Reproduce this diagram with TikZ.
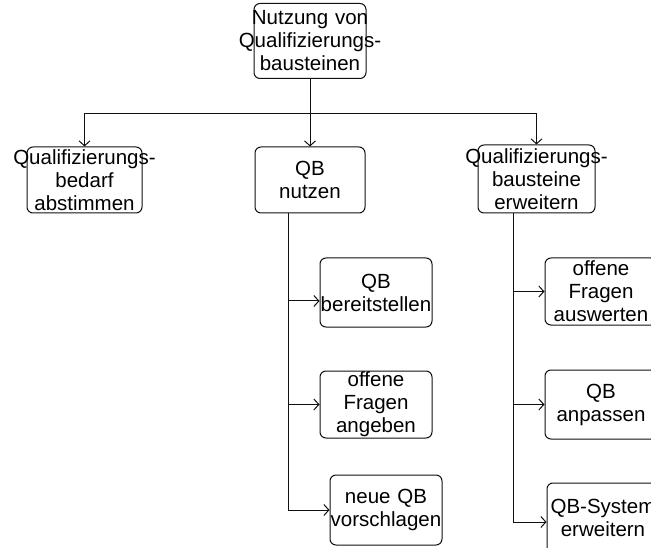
\documentclass[tikz,border=0pt]{standalone}
\usepackage{fontspec}
\newfontfamily\arialfont{Liberation Sans}
\usepackage{tikz}
\usetikzlibrary{arrows.meta,positioning,calc}
\definecolor{inkblack}{RGB}{16, 16, 16}
\newcommand{\bxl}[1]{\makebox[\hsize]{#1}}
\tikzset{
  pbox/.style={draw=inkblack,line width=1pt,rounded corners=6pt,align=center,
               inner sep=0pt,font=\arialfont\fontsize{20.5}{23}\selectfont,
               text width=112pt,minimum height=69pt},
  arr/.style={-{Straight Barb[length=5pt,width=11pt]},line width=1pt,draw=inkblack},
  bus/.style={line width=1pt,draw=inkblack},
}
\begin{document}
\begin{tikzpicture}[x=1pt,y=-1pt]
        \useasboundingbox (0,0) rectangle (651,548);
        \clip (0,0) rectangle (651,548);
        \node[pbox,minimum height=75pt]
              (root) at (310,41) {\bxl{Nutzung von}\\\bxl{Qualifizierungs-}\\\bxl{bausteinen}};
        \node[pbox,text width=115pt,minimum height=66pt]
              (abst) at (84.5,180) {\bxl{Qualifizierungs-}\\\bxl{bedarf}\\\bxl{abstimmen}};
        \node[pbox,text width=110pt,minimum height=66pt]
              (nutzen) at (310,180) {\bxl{QB}\\\bxl{nutzen}};
        \node[pbox,text width=117pt,minimum height=68pt]
              (erw) at (536.5,179) {\bxl{Qualifizierungs-}\\\bxl{bausteine}\\\bxl{erweitern}};
        % QB nutzen
        \node[pbox] (qb1) at (376,292.5) {\bxl{QB}\\\bxl{bereitstellen}};
        \node[pbox,minimum height=67pt] (qb2) at (376,404.5) {\bxl{offene}\\\bxl{Fragen}\\\bxl{angeben}};
        \node[pbox,minimum height=70pt] (qb3) at (386,510) {\bxl{neue QB}\\\bxl{vorschlagen}};
        % Qualifizierungsbausteine erweitern
        \node[pbox,minimum height=67pt] (aus) at (601,291.5) {\bxl{offene}\\\bxl{Fragen}\\\bxl{auswerten}};
        \node[pbox] (anp) at (601,404.5) {\bxl{QB}\\\bxl{anpassen}};
        \node[pbox,minimum height=70pt] (sys) at (603,518) {\bxl{QB-System}\\\bxl{erweitern}};
        \coordinate (busy) at (0,114);
        \coordinate (mtrunk) at (288,0);
        \coordinate (rtrunk) at (513,0);
        \coordinate (qb1w) at ([yshift=-8.5pt]qb1.west);
        \coordinate (sysw) at ([yshift=-4pt]sys.west);
        \draw[bus] (root.south) -- (root.south |- busy);
        \draw[arr] (root.south |- busy) -- (nutzen.north);
        \draw[arr] (root.south |- busy) -| (abst.north);
        \draw[arr] (root.south |- busy) -| (erw.north);
        \draw[bus] (nutzen.south -| mtrunk) -- (mtrunk |- qb3.west);
        \draw[arr] (mtrunk |- qb1w) -- (qb1w);
        \draw[arr] (mtrunk |- qb2.west) -- (qb2.west);
        \draw[arr] (mtrunk |- qb3.west) -- (qb3.west);
        \draw[bus] (erw.south -| rtrunk) -- (rtrunk |- sysw);
        \draw[arr] (rtrunk |- aus.west) -- (aus.west);
        \draw[arr] (rtrunk |- anp.west) -- (anp.west);
        \draw[arr] (rtrunk |- sysw) -- (sysw);
      \end{tikzpicture}
\end{document}
